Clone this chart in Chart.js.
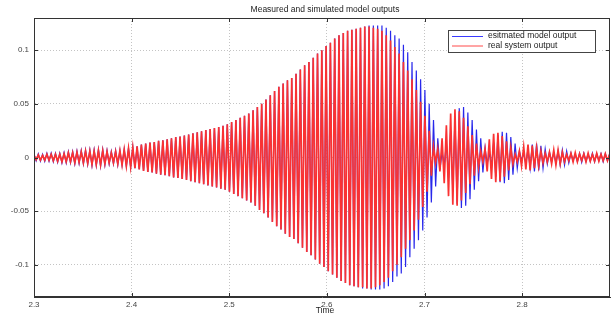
<!DOCTYPE html>
<html>
<head>
<meta charset="utf-8">
<script src="https://cdn.jsdelivr.net/npm/chart.js@4"></script>
<style>
  html, body { margin: 0; padding: 0; background: #fff; }
  #wrap { width: 611px; height: 318px; }
</style>
</head>
<body>
<div id="wrap"><canvas id="chart" width="611" height="318"></canvas></div>
<script>
const chartTitle = 'Measured and simulated model outputs';
const xTitle = 'Time';
const seriesNames = ['esitmated model output', 'real system output'];
const xTicks = [2.3, 2.4, 2.5, 2.6, 2.7, 2.8];
const yTicks = [-0.1, -0.05, 0, 0.05, 0.1];

// samples are taken at every half period (peaks and troughs)
const tStart = 2.3;
const tStep = 0.0022;

const estimated = [
  .003,-.003,.0035,-.0035,.003,-.0035,.004,-.0035,.004,-.004,
  .004,-.0045,.004,-.005,.0045,-.005,.0055,-.005,.0055,-.006,
  .006,-.0055,.0065,-.006,.007,-.0065,.007,-.0075,.007,-.0075,
  .0075,-.008,.0075,-.007,.0065,-.006,.0055,-.006,.0065,-.007,
  .0065,-.007,.0075,-.008,.0085,-.009,.0095,-.01,.0105,-.011,
  .012,-.0125,.013,-.0135,.014,-.014,.0145,-.015,.0155,-.016,
  .016,-.0165,.017,-.0175,.018,-.0185,.019,-.019,.0195,-.02,
  .0205,-.021,.0215,-.022,.0225,-.023,.0235,-.024,.0245,-.025,
  .0255,-.026,.0265,-.027,.0275,-.028,.0285,-.029,.0295,-.03,
  .031,-.032,.033,-.034,.035,-.036,.037,-.038,.039,-.04,
  .041,-.042,.044,-.045,.047,-.049,.05,-.052,.054,-.056,
  .058,-.06,.062,-.064,.066,-.067,.069,-.071,.072,-.074,
  .074,-.076,.078,-.08,.082,-.084,.086,-.088,.089,-.091,
  .093,-.095,.097,-.099,.1,-.102,.104,-.106,.107,-.109,
  .111,-.112,.114,-.115,.116,-.117,.118,-.119,.119,-.12,
  .12,-.121,.121,-.122,.122,-.122,.123,-.123,.123,-.123,
  .123,-.123,.123,-.122,.121,-.12,.118,-.116,.114,-.111,
  .111,-.108,.105,-.102,.098,-.093,.089,-.085,.081,-.077,
  .073,-.068,.063,-.056,.05,-.042,.035,-.027,.018,-.011,
  .005,-.008,.014,-.019,.025,-.032,.038,-.043,.046,-.047,
  .047,-.045,.042,-.039,.035,-.03,.026,-.022,.018,-.014,
  .009,-.006,.004,-.008,.014,-.018,.021,-.023,.024,-.024,
  .023,-.021,.019,-.016,.013,-.01,.006,-.003,.004,-.006,
  .008,-.01,.012,-.013,.013,-.012,.011,-.01,.008,-.006,
  .005,-.004,.004,-.005,.006,-.007,.007,-.007,.006,-.005,
  .004,-.003,.003,-.004,.004,-.0045,.004,-.0035,.003,-.0035,
  .004,-.004,.0035,-.003,.0035,-.004,.0035,-.003,.003,-.0035
];

const measured = [
  .002,-.002,.0025,-.0025,.002,-.0025,.003,-.0025,.003,-.003,
  .003,-.0035,.003,-.004,.0035,-.004,.0045,-.004,.0045,-.005,
  .005,-.0045,.0055,-.005,.006,-.0055,.006,-.0065,.006,-.0065,
  .0065,-.007,.0065,-.006,.0055,-.005,.0045,-.005,.0055,-.006,
  .0065,-.007,.0075,-.008,.0085,-.009,.0095,-.01,.0105,-.011,
  .012,-.0125,.013,-.0135,.014,-.014,.0145,-.015,.0155,-.016,
  .016,-.0165,.017,-.0175,.018,-.0185,.019,-.019,.0195,-.02,
  .0205,-.021,.0215,-.022,.0225,-.023,.0235,-.024,.0245,-.025,
  .0255,-.026,.0265,-.027,.0275,-.028,.0285,-.029,.0295,-.03,
  .031,-.032,.033,-.034,.035,-.036,.037,-.038,.039,-.04,
  .041,-.042,.044,-.045,.047,-.049,.05,-.052,.054,-.056,
  .058,-.06,.062,-.064,.066,-.067,.069,-.071,.072,-.074,
  .074,-.076,.078,-.08,.082,-.084,.086,-.088,.089,-.091,
  .093,-.095,.097,-.099,.1,-.102,.104,-.106,.107,-.109,
  .111,-.112,.114,-.115,.116,-.117,.118,-.119,.119,-.12,
  .12,-.121,.121,-.121,.122,-.122,.122,-.122,.121,-.121,
  .12,-.119,.118,-.116,.114,-.112,.109,-.106,.103,-.1,
  .097,-.093,.089,-.085,.081,-.077,.073,-.068,.063,-.058,
  .052,-.046,.039,-.032,.025,-.017,.01,-.005,.008,-.013,
  .018,-.024,.03,-.036,.041,-.044,.045,-.045,.043,-.04,
  .037,-.033,.029,-.025,.021,-.017,.013,-.009,.006,-.004,
  .008,-.013,.017,-.02,.022,-.023,.023,-.022,.02,-.018,
  .015,-.012,.009,-.006,.003,-.004,.006,-.008,.01,-.011,
  .012,-.012,.011,-.01,.009,-.008,.006,-.005,.004,-.004,
  .005,-.006,.007,-.007,.007,-.006,.005,-.004,.003,-.003,
  .004,-.004,.0045,-.004,.0035,-.003,.0035,-.004,.004,-.0035,
  .003,-.0035,.004,-.0035,.003,-.003,.0035,-.003,.003,-.0025
];

const FONT = '"Liberation Sans", Arial, sans-serif';

function toPoints(values) {
  return values.map((v, i) => ({ x: tStart + i * tStep, y: v }));
}

// matlab style box, inward ticks, title and legend
const framePlugin = {
  id: 'frame',
  afterDraw(chart) {
    const { ctx, chartArea: a } = chart;
    const xs = chart.scales.x, ys = chart.scales.y;
    ctx.save();
    ctx.strokeStyle = '#333';
    ctx.lineWidth = 1;
    ctx.strokeRect(a.left + 0.5, a.top + 0.5, a.right - a.left - 1, a.bottom - a.top - 1);

    ctx.beginPath();
    xTicks.forEach(v => {
      const px = Math.round(xs.getPixelForValue(v)) + 0.5;
      ctx.moveTo(px, a.bottom); ctx.lineTo(px, a.bottom - 4);
      ctx.moveTo(px, a.top); ctx.lineTo(px, a.top + 4);
    });
    yTicks.forEach(v => {
      const py = Math.round(ys.getPixelForValue(v)) + 0.5;
      ctx.moveTo(a.left, py); ctx.lineTo(a.left + 4, py);
      ctx.moveTo(a.right, py); ctx.lineTo(a.right - 4, py);
    });
    ctx.stroke();

    ctx.fillStyle = '#222';
    ctx.font = '8.5px ' + FONT;
    ctx.textAlign = 'center';
    ctx.textBaseline = 'middle';
    ctx.fillText(chartTitle, (a.left + a.right) / 2 + 3, 10);
    ctx.fillText(xTitle, (a.left + a.right) / 2 + 3, 311);

    // legend box
    ctx.fillStyle = '#fff';
    ctx.fillRect(448, 30, 147, 22);
    ctx.strokeStyle = '#444';
    ctx.strokeRect(448.5, 30.5, 147, 22);
    const colors = ['#3a3aff', '#ff4a4a'];
    const rowsY = [36, 45.5];
    seriesNames.forEach((name, i) => {
      ctx.strokeStyle = colors[i];
      ctx.beginPath();
      ctx.moveTo(452, rowsY[i] + 0.5);
      ctx.lineTo(483, rowsY[i] + 0.5);
      ctx.stroke();
      ctx.fillStyle = '#222';
      ctx.textAlign = 'left';
      ctx.fillText(name, 488, rowsY[i]);
    });
    ctx.restore();
  }
};

new Chart(document.getElementById('chart'), {
  type: 'line',
  data: {
    datasets: [
      {
        label: seriesNames[1],
        data: toPoints(measured),
        borderColor: 'rgb(250, 50, 50)',
        borderWidth: 1.7,
        pointRadius: 0,
        tension: 0,
        order: 0
      },
      {
        label: seriesNames[0],
        data: toPoints(estimated),
        borderColor: 'rgb(40, 40, 235)',
        borderWidth: 1.2,
        pointRadius: 0,
        tension: 0,
        order: 1
      }
    ]
  },
  options: {
    responsive: false,
    animation: false,
    devicePixelRatio: 1,
    layout: { padding: { left: 0, right: 1, top: 18, bottom: 0 } },
    plugins: {
      legend: { display: false },
      title: { display: false },
      tooltip: { enabled: false }
    },
    scales: {
      x: {
        type: 'linear',
        min: 2.3,
        max: 2.89,
        afterFit: s => { s.height = 21; },
        afterBuildTicks: s => { s.ticks = xTicks.map(v => ({ value: v })); },
        ticks: {
          padding: 3,
          color: '#444',
          font: { family: FONT, size: 8 },
          maxRotation: 0,
          callback: v => String(v)
        },
        grid: { color: '#c4c4c4', drawTicks: false, lineWidth: 1 },
        border: { display: true, color: '#333', dash: [1, 2] }
      },
      y: {
        type: 'linear',
        min: -0.13,
        max: 0.13,
        afterFit: s => { s.width = 34; },
        afterBuildTicks: s => { s.ticks = yTicks.map(v => ({ value: v })); },
        ticks: {
          padding: 5,
          color: '#444',
          font: { family: FONT, size: 8 },
          callback: v => String(v)
        },
        grid: { color: '#c4c4c4', drawTicks: false, lineWidth: 1 },
        border: { display: true, color: '#333', dash: [1, 2] }
      }
    }
  },
  plugins: [framePlugin]
});
</script>
</body>
</html>
